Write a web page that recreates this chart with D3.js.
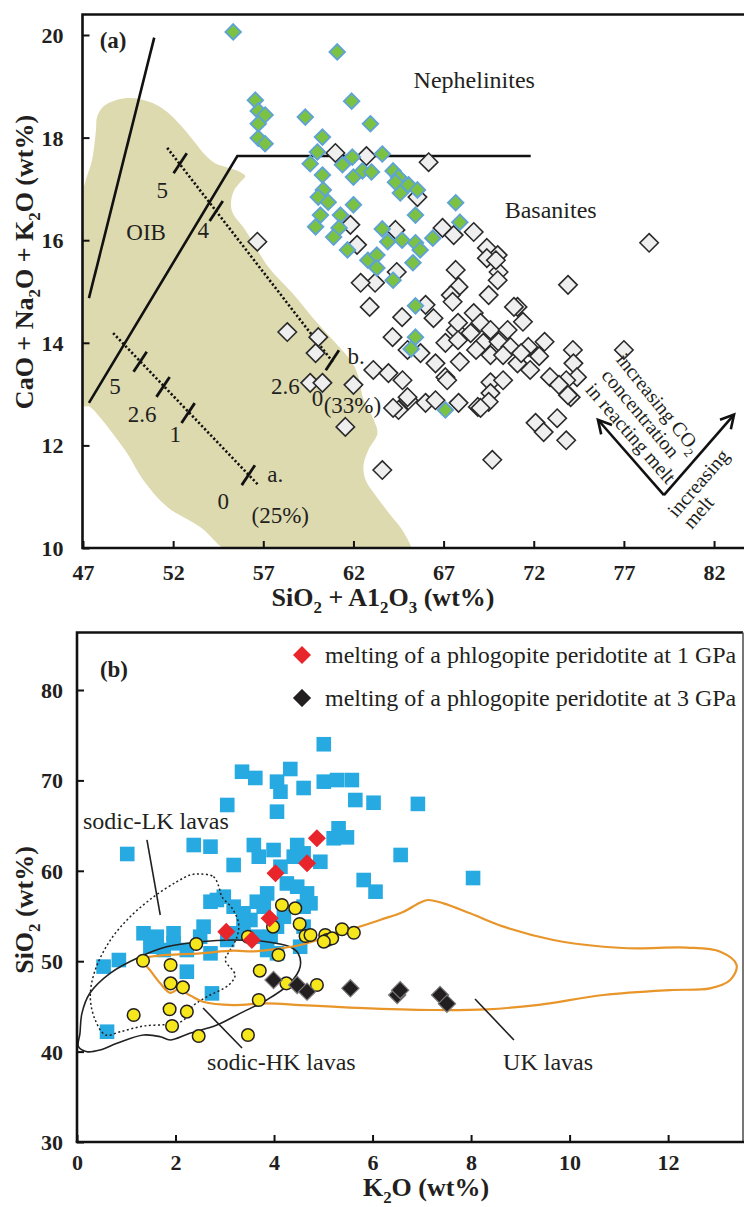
<!DOCTYPE html>
<html><head><meta charset="utf-8">
<script src="https://cdn.jsdelivr.net/npm/d3@7"></script>
<style>
body{margin:0;background:#fff}
svg{display:block}
text{font-family:"Liberation Serif","Times New Roman",serif;fill:#231f20}
</style>
</head><body>
<svg id="c" width="744" height="1207"></svg>
<script>
// ---------------- DATA ----------------
const aXTicks = [47, 52, 57, 62, 67, 72, 77, 82];
const aYTicks = [10, 12, 14, 16, 18, 20];
const bXTicks = [0, 2, 4, 6, 8, 10, 12];
const bYTicks = [30, 40, 50, 60, 70, 80];

// panel (a): SiO2+Al2O3 vs CaO+Na2O+K2O
const greenDiamonds = [
  [55.33,20.06],[61.1,19.67],[56.56,18.73],[56.72,18.52],[57.1,18.44],[56.72,18.27],[56.72,17.99],[57.1,17.88],
  [59.33,18.40],[61.9,18.71],[62.94,18.27],[60.28,18.01],[60.0,17.72],[59.6,17.49],[61.94,17.62],[61.39,17.47],
  [63.6,17.68],[62.0,17.23],[62.5,17.35],[63.0,17.33],[60.28,17.27],[64.2,17.35],[64.5,17.23],[64.33,17.13],
  [65.05,17.08],[65.55,16.98],[64.6,16.92],[60.33,16.98],[60.05,16.84],[60.6,16.74],[62.0,16.69],[60.17,16.49],
  [61.28,16.49],[67.67,16.73],[65.44,16.49],[59.9,16.26],[61.2,16.24],[60.9,16.06],[63.6,16.22],[63.9,15.97],
  [64.7,16.0],[65.44,15.95],[65.7,15.81],[66.4,16.04],[61.67,15.81],[62.8,15.61],[63.3,15.71],[63.3,15.46],
  [65.3,15.56],[64.2,15.22],[65.44,14.72],[65.44,14.11],[65.2,13.88],[67.1,12.69],[67.9,16.35]
];
const whiteDiamonds = [
  [61.0,17.70],[62.72,17.64],[66.17,17.52],[65.55,16.84],[64.33,16.2],[66.94,16.24],[67.56,16.1],[68.67,16.16],
  [69.4,15.85],[70.0,15.71],[69.4,15.65],[70.05,15.38],[70.0,15.22],[67.67,15.42],[67.83,15.09],[67.4,14.93],
  [69.5,14.93],[73.9,15.13],[78.4,15.95],[64.4,15.38],[63.2,15.17],[56.67,15.97],[61.83,16.3],[62.2,15.91],
  [62.4,15.17],[62.9,14.7],[66.0,14.74],[66.44,14.48],[64.7,14.5],[64.17,14.11],[65.0,13.86],[65.72,13.8],
  [66.55,13.6],[67.1,13.33],[67.1,14.0],[58.33,14.21],[60.05,14.11],[59.9,13.8],[59.6,13.22],[60.28,13.22],
  [62.0,13.18],[63.1,13.47],[63.94,13.41],[64.72,13.27],[65.05,12.88],[66.0,12.83],[64.5,12.69],[66.55,12.88],
  [61.55,12.36],[63.6,11.52],[67.67,14.25],[69.9,15.61],[67.5,14.8],[68.67,14.58],[71.1,14.7],[71.4,14.41],
  [67.8,14.39],[69.05,14.39],[69.6,14.25],[70.55,14.25],[68.5,14.19],[67.8,14.05],[69.2,14.0],[70.05,14.02],
  [68.8,13.86],[69.6,13.76],[70.7,13.92],[71.7,13.92],[72.6,14.02],[74.17,13.86],[74.2,13.6],[74.4,13.33],
  [73.8,13.27],[72.9,13.33],[71.8,13.47],[71.1,13.6],[70.3,13.76],[67.9,13.63],[67.2,13.27],[69.6,13.23],
  [70.3,13.27],[69.6,13.02],[68.9,12.75],[69.5,12.85],[73.4,13.18],[74.05,12.94],[72.1,12.44],[72.55,12.26],
  [73.3,12.53],[73.8,12.1],[69.7,11.72],[77.0,13.86],[72.3,13.74],[71.3,13.8],[70.9,14.7],[73.9,12.98],
  [64.2,12.73],[65.0,12.94],[67.83,12.83],[69.05,12.73]
];
const oibField = [
  [47.0,16.94],[47.5,17.56],[47.72,18.15],[47.78,18.40],[48.11,18.60],[48.67,18.71],[49.44,18.77],[50.17,18.75],
  [50.89,18.67],[51.67,18.50],[52.39,18.25],[53.11,17.95],[53.78,17.66],[54.33,17.50],[55.06,17.41],[55.72,17.33],
  [56.0,17.25],[55.72,17.13],[55.39,16.98],[55.22,16.78],[55.28,16.55],[56.0,16.20],[57.28,15.48],[58.61,14.97],
  [59.72,14.50],[61.0,14.0],[61.94,13.61],[62.28,13.33],[62.56,12.89],[63.06,12.55],[63.33,12.24],[62.83,11.91],
  [62.56,11.62],[62.67,11.33],[63.22,11.03],[64.06,10.64],[64.78,10.31],[65.17,9.9],[60.0,9.9],[55.28,9.9],
  [53.5,10.41],[51.67,10.80],[50.33,11.33],[49.44,11.85],[48.5,12.30],[47.94,12.55],[47.39,12.75],[46.9,12.79],
  [46.9,14.8]
];
const boundaryLeft = [[47.33,14.87],[50.95,19.95]];
const boundaryMain = [[47.33,12.83],[55.56,17.64],[71.83,17.64]];
const meltLineA = [[48.67,14.19],[56.72,11.23]];
const meltTicksA = [[50.17,13.63],[51.44,13.14],[52.83,12.63],[56.17,11.42]];
const meltLineB = [[51.67,17.80],[60.89,13.61]];
const meltTicksB = [[52.39,17.5],[54.39,16.57],[60.83,13.66]];

// panel (b): K2O vs SiO2
const blueSquares = [
  [5.01,74.0],[3.35,70.96],[3.62,70.27],[4.33,71.26],[4.06,69.86],[4.13,68.75],[4.6,69.16],[5.01,69.86],
  [5.28,70.04],[5.58,70.04],[5.65,67.83],[6.02,67.53],[3.05,67.28],[4.06,66.54],[2.37,62.85],[2.71,62.67],
  [1.02,61.86],[3.59,62.85],[3.99,62.3],[3.69,61.56],[4.47,62.85],[4.6,61.93],[4.94,61.0],[4.4,61.56],
  [5.31,64.7],[5.21,63.6],[5.48,63.7],[3.18,60.64],[4.13,60.45],[6.57,61.75],[5.82,58.98],[6.06,57.69],
  [4.26,58.6],[4.47,58.24],[4.67,57.5],[4.74,56.4],[3.86,57.5],[3.65,56.58],[3.79,56.03],[2.98,57.14],
  [2.71,56.58],[3.18,56.03],[3.38,55.3],[3.52,54.56],[4.06,53.82],[4.2,54.92],[4.6,56.03],[4.6,53.82],
  [4.53,51.6],[1.35,53.09],[1.62,52.71],[1.96,53.09],[1.96,51.98],[2.57,53.82],[2.5,52.71],[2.23,51.24],
  [2.71,50.87],[3.05,52.35],[3.25,53.09],[3.38,54.19],[3.65,52.71],[3.93,52.71],[3.86,51.24],[4.06,50.87],
  [1.49,51.6],[1.76,51.24],[0.54,49.4],[0.85,50.13],[2.23,48.84],[2.74,46.44],[0.61,42.2],[2.84,56.77],
  [6.92,67.4],[8.04,59.2]
];
const yellowCircles = [
  [4.16,56.22],[4.43,55.85],[4.52,54.12],[4.64,52.79],[4.74,52.9],[5.04,52.9],[5.08,52.35],[5.18,52.53],
  [5.01,52.16],[5.38,53.53],[5.62,53.15],[3.98,53.82],[3.47,52.71],[2.42,51.9],[1.34,50.05],[1.9,49.58],
  [4.09,50.69],[3.71,48.95],[1.9,47.55],[2.15,47.11],[4.25,47.55],[4.87,47.37],[3.69,45.71],[1.88,44.68],
  [2.23,44.42],[1.15,44.05],[1.93,42.83],[2.47,41.72],[3.47,41.83]
];
const red1GPa = [[4.87,63.6],[4.67,60.83],[4.03,59.72],[3.91,54.75],[3.03,53.27],[3.55,52.35]];
const black3GPa = [[3.99,47.92],[4.47,47.37],[4.67,46.63],[5.55,47.0],[6.5,46.26],[6.56,46.8],[7.37,46.26],[7.51,45.3]];
const sodicLK = [
  [2.50,59.65],[2.77,59.35],[2.88,58.24],[2.94,57.14],[3.15,55.85],[3.28,54.19],[3.25,52.71],[3.11,51.24],
  [3.01,50.13],[3.21,48.47],[3.08,47.37],[2.64,46.07],[2.34,44.97],[2.17,43.5],[1.9,43.05],[1.35,42.83],
  [0.88,42.2],[0.58,41.84],[0.37,43.5],[0.27,46.07],[0.37,49.03],[0.68,52.35],[1.08,54.92],[1.56,57.14],
  [2.03,58.8],[2.3,59.54]
];
const sodicHK = [
  [0.06,42.02],[0.03,40.54],[0.2,39.99],[0.47,40.18],[0.81,40.92],[1.35,41.84],[1.69,41.65],[1.89,41.28],
  [2.29,42.02],[2.84,42.94],[3.31,44.23],[3.85,45.71],[4.32,47.55],[4.53,49.39],[4.49,50.87],[4.32,51.6],
  [3.85,52.16],[3.17,52.35],[2.5,52.16],[1.82,51.6],[1.28,50.5],[0.67,48.66],[0.26,46.45],[0.1,44.23]
];
const ukField = [
  [1.31,50.21],[1.62,50.58],[2.5,50.87],[3.17,51.16],[3.58,51.09],[3.99,51.31],[4.53,51.79],[5.2,52.9],
  [6.15,54.56],[6.63,55.48],[6.96,56.47],[7.13,56.77],[7.44,56.4],[7.98,55.3],[8.66,53.82],[9.67,52.35],
  [10.69,51.6],[11.36,51.42],[12.38,51.5],[13.06,51.05],[13.39,49.58],[13.26,47.92],[12.85,47.0],[12.04,46.81],
  [10.69,46.26],[9.33,45.15],[8.32,44.68],[7.3,44.6],[5.95,44.79],[5.2,44.97],[4.53,45.15],[3.85,45.34],
  [3.17,45.15],[2.56,45.52],[2.3,46.2],[2.05,46.85],[1.89,46.5],[1.69,47.55],[1.48,49.03]
];

// ---------------- DRAWING ----------------
const svg = d3.select("#c");
const FONT_REG = 24, FONT_TICK = 22, FONT_TITLE = 26;

function rich(g, parts, fs, weight) {
  const t = g.append("text").attr("font-size", fs).attr("font-weight", weight || "normal");
  let inSub = false;
  const sh = fs * 0.28;
  parts.forEach(p => {
    const s = typeof p === "string" ? p : p[0];
    const isSub = typeof p !== "string";
    const ts = t.append("tspan").text(s);
    if (isSub) { ts.attr("font-size", fs * 0.65); if (!inSub) ts.attr("dy", sh); inSub = true; }
    else if (inSub) { ts.attr("dy", -sh); inSub = false; }
  });
  return t;
}
function diamond(h) { return `M0,${-h}L${h},0L0,${h}L${-h},0Z`; }

// ===== Panel (a) =====
const xA = d3.scaleLinear().domain([47, 83.7]).range([83, 744.7]);
const yA = d3.scaleLinear().domain([10, 20]).range([548, 35]);
const gA = svg.append("g");
svg.append("clipPath").attr("id", "clipA").append("rect").attr("x", 83).attr("y", 15).attr("width", 662).attr("height", 532);

gA.append("path").datum(oibField)
  .attr("clip-path", "url(#clipA)")
  .attr("d", d3.line().x(d => xA(d[0])).y(d => yA(d[1])).curve(d3.curveCatmullRomClosed.alpha(0.5)))
  .attr("fill", "#dddab0").attr("stroke", "none");

const lineA = d3.line().x(d => xA(d[0])).y(d => yA(d[1]));
[boundaryLeft, boundaryMain].forEach(L => gA.append("path").attr("d", lineA(L)).attr("fill", "none").attr("stroke", "#111").attr("stroke-width", 2.6));
[meltLineA, meltLineB].forEach(L => gA.append("path").attr("d", lineA(L)).attr("fill", "none").attr("stroke", "#111").attr("stroke-width", 2.6).attr("stroke-dasharray", "2.2,2.2"));
const tn = [0.55, -0.83], th = 12;
[...meltTicksA, ...meltTicksB].forEach(d => {
  const px = xA(d[0]), py = yA(d[1]);
  gA.append("line").attr("x1", px - tn[0]*th).attr("y1", py - tn[1]*th).attr("x2", px + tn[0]*th).attr("y2", py + tn[1]*th)
    .attr("stroke", "#111").attr("stroke-width", 2.8);
});

gA.append("g").selectAll("path").data(whiteDiamonds).join("path")
  .attr("d", diamond(9.2)).attr("transform", d => `translate(${xA(d[0])},${yA(d[1])})`)
  .attr("fill", "#efefef").attr("stroke", "#2a2a2a").attr("stroke-width", 1.6);
gA.append("g").selectAll("path").data(greenDiamonds).join("path")
  .attr("d", diamond(7.8)).attr("transform", d => `translate(${xA(d[0])},${yA(d[1])})`)
  .attr("fill", "#7cc242").attr("stroke", "#5fa3d6").attr("stroke-width", 1.8);

// axes (a)
const axAx = d3.axisBottom(xA).tickValues(aXTicks).tickSize(-7).tickSizeOuter(0).tickPadding(16);
const axAy = d3.axisLeft(yA).tickValues(aYTicks).tickSize(-7).tickSizeOuter(0).tickPadding(19);
const gAx = gA.append("g").attr("transform", "translate(0,548)").call(axAx);
const gAy = gA.append("g").attr("transform", "translate(82.5,0)").call(axAy);
[gAx, gAy].forEach(g => {
  g.select(".domain").remove();
  g.selectAll(".tick line").attr("stroke", "#111").attr("stroke-width", 2);
  g.selectAll(".tick text").attr("font-size", FONT_TICK).attr("font-weight", "bold").attr("fill", "#231f20")
    .attr("font-family", "Liberation Serif, serif");
});
gAy.selectAll(".tick text").attr("dy", "0.34em");
gA.append("path").attr("d", "M82.5,14.5H744M82.5,13.2V549.3M81.2,548H744").attr("fill", "none").attr("stroke", "#111").attr("stroke-width", 2.6);

// texts (a)
function place(g, x, y, parts, fs, weight, anchor) {
  const t = rich(g, parts, fs, weight).attr("x", x).attr("y", y).attr("text-anchor", anchor || "middle");
  return t;
}
place(gA, xA(48.67), yA(19.75), ["(a)"], 23, "bold");
place(gA, xA(68.7), yA(18.97), ["Nephelinites"], FONT_REG);
place(gA, xA(72.94), yA(16.43), ["Basanites"], FONT_REG);
place(gA, xA(50.5), yA(16.0), ["OIB"], 23);
place(gA, xA(51.39), yA(16.82), ["5"], 23);
place(gA, xA(53.67), yA(16.04), ["4"], 23);
place(gA, xA(58.22), yA(13.0), ["2.6"], 23);
place(gA, xA(60.0), yA(12.77), ["0"], 23);
place(gA, xA(61.94), yA(12.63), ["(33%)"], 23);
place(gA, xA(61.67), yA(13.59), ["b."], 23, "normal", "start");
place(gA, xA(48.78), yA(13.0), ["5"], 23);
place(gA, xA(50.28), yA(12.46), ["2.6"], 23);
place(gA, xA(52.11), yA(12.07), ["1"], 23);
place(gA, xA(54.78), yA(10.76), ["0"], 23);
place(gA, xA(57.22), yA(11.29), ["a."], 23, "normal", "start");
place(gA, xA(57.94), yA(10.49), ["(25%)"], 23);

// arrows
const vtx = [79.22, 11.03], endL = [75.56, 12.5], endR = [83.11, 12.6];
function arrow(g, a, b) {
  const x1 = xA(a[0]), y1 = yA(a[1]), x2 = xA(b[0]), y2 = yA(b[1]);
  const ang = Math.atan2(y2 - y1, x2 - x1), L = 15, w = 0.5;
  g.append("line").attr("x1", x1).attr("y1", y1).attr("x2", x2).attr("y2", y2).attr("stroke", "#111").attr("stroke-width", 2.6);
  g.append("path").attr("d", `M${x2 - L*Math.cos(ang - w)},${y2 - L*Math.sin(ang - w)}L${x2},${y2}L${x2 - L*Math.cos(ang + w)},${y2 - L*Math.sin(ang + w)}`)
    .attr("fill", "none").attr("stroke", "#111").attr("stroke-width", 2.6);
}
arrow(gA, vtx, endL); arrow(gA, vtx, endR);
function rot(g, x, y, deg, parts, fs) {
  const t = rich(g, parts, fs).attr("text-anchor", "middle").attr("dy", "0.35em")
    .attr("transform", `translate(${x},${y}) rotate(${deg})`);
  return t;
}
rot(gA, xA(78.94), yA(12.83), 51, ["increasing CO", ["2"]], 20);
rot(gA, xA(77.94), yA(12.63), 50, ["concentration"], 20);
rot(gA, xA(77.39), yA(12.24), 49, ["in reacting melt"], 20);
rot(gA, xA(81.11), yA(11.27), -49, ["increasing"], 20);
rot(gA, xA(81.11), yA(10.70), -49, ["melt"], 20);

// axis titles (a)
place(gA, 383, 606, ["SiO", ["2"], " + A1", ["2"], "O", ["3"], " (wt%)"], FONT_TITLE, "bold");
rich(gA, ["CaO + Na", ["2"], "O + K", ["2"], "O (wt%)"], FONT_TITLE, "bold")
  .attr("text-anchor", "middle").attr("transform", "translate(33,262) rotate(-90)");

// ===== Panel (b) =====
const xB = d3.scaleLinear().domain([0, 13.52]).range([77, 743]);
const yB = d3.scaleLinear().domain([30, 80]).range([1142, 690]);
const gB = svg.append("g");
svg.append("clipPath").attr("id", "clipB").append("rect").attr("x", 77).attr("y", 632).attr("width", 666).attr("height", 510);
const lineB = d3.line().x(d => xB(d[0])).y(d => yB(d[1])).curve(d3.curveCatmullRomClosed.alpha(0.5));

gB.append("g").selectAll("rect").data(blueSquares).join("rect")
  .attr("x", d => xB(d[0]) - 7.3).attr("y", d => yB(d[1]) - 7.3).attr("width", 14.6).attr("height", 14.6)
  .attr("fill", "#27aae1");

gB.append("path").datum(sodicLK).attr("clip-path", "url(#clipB)").attr("d", lineB)
  .attr("fill", "none").attr("stroke", "#222").attr("stroke-width", 1.5).attr("stroke-dasharray", "2,2.5");
gB.append("path").datum(sodicHK).attr("clip-path", "url(#clipB)").attr("d", lineB)
  .attr("fill", "none").attr("stroke", "#222").attr("stroke-width", 1.6);
gB.append("path").datum(ukField).attr("clip-path", "url(#clipB)").attr("d", lineB)
  .attr("fill", "none").attr("stroke", "#e8952a").attr("stroke-width", 2.2);

gB.append("g").selectAll("circle").data(yellowCircles).join("circle")
  .attr("cx", d => xB(d[0])).attr("cy", d => yB(d[1])).attr("r", 6.3)
  .attr("fill", "#f6e71d").attr("stroke", "#231f20").attr("stroke-width", 1.5);
gB.append("g").selectAll("path").data(red1GPa).join("path")
  .attr("d", diamond(9)).attr("transform", d => `translate(${xB(d[0])},${yB(d[1])})`).attr("fill", "#e8252b");
gB.append("g").selectAll("path").data(black3GPa).join("path")
  .attr("d", diamond(8.6)).attr("transform", d => `translate(${xB(d[0])},${yB(d[1])})`)
  .attr("fill", "#231f20").attr("stroke", "#7a7a7a").attr("stroke-width", 1.2);

// leader lines
function leader(a, b) {
  gB.append("line").attr("x1", xB(a[0])).attr("y1", yB(a[1])).attr("x2", xB(b[0])).attr("y2", yB(b[1]))
    .attr("stroke", "#231f20").attr("stroke-width", 1.6);
}
leader([1.42, 63.41], [1.69, 55.11]);
leader([2.56, 44.82], [3.35, 40.4]);
leader([8.08, 45.82], [8.87, 41.28]);
place(gB, xB(0.12), yB(64.62), ["sodic-LK lavas"], FONT_REG, "normal", "start");
place(gB, xB(2.64), yB(37.96), ["sodic-HK lavas"], FONT_REG, "normal", "start");
place(gB, xB(8.65), yB(37.96), ["UK lavas"], FONT_REG, "normal", "start");
place(gB, xB(0.75), yB(81.44), ["(b)"], 23, "bold");

// legend
const legend = [
  {label: "melting of a phlogopite peridotite at 1 GPa", color: "#e8252b", stroke: "none"},
  {label: "melting of a phlogopite peridotite at 3 GPa", color: "#231f20", stroke: "#7a7a7a"}
];
legend.forEach((L, i) => {
  const cy = 655 + i * 43;
  gB.append("path").attr("d", diamond(9)).attr("transform", `translate(302,${cy})`).attr("fill", L.color).attr("stroke", L.stroke);
  gB.append("text").attr("x", 325).attr("y", cy + 8).attr("font-size", FONT_REG).text(L.label);
});

// axes (b)
const axBx = d3.axisBottom(xB).tickValues(bXTicks).tickSize(-7).tickSizeOuter(0).tickPadding(12);
const axBy = d3.axisLeft(yB).tickValues(bYTicks).tickSize(-7).tickSizeOuter(0).tickPadding(14);
const gBx = gB.append("g").attr("transform", "translate(0,1142)").call(axBx);
const gBy = gB.append("g").attr("transform", "translate(77,0)").call(axBy);
[gBx, gBy].forEach(g => {
  g.select(".domain").remove();
  g.selectAll(".tick line").attr("stroke", "#111").attr("stroke-width", 2);
  g.selectAll(".tick text").attr("font-size", FONT_TICK).attr("font-weight", "bold").attr("fill", "#231f20")
    .attr("font-family", "Liberation Serif, serif");
});
gBy.selectAll(".tick text").attr("dy", "0.34em");
gB.append("path").attr("d", "M77,1142V632.5H743").attr("fill", "none").attr("stroke", "#111").attr("stroke-width", 2.6);
gB.append("path").attr("d", "M743,632.5V1142").attr("fill", "none").attr("stroke", "#555").attr("stroke-width", 1.6);
gB.append("path").attr("d", "M75.7,1142H744").attr("fill", "none").attr("stroke", "#111").attr("stroke-width", 2.6);

place(gB, 426, 1196, ["K", ["2"], "O (wt%)"], FONT_TITLE, "bold");
rich(gB, ["SiO", ["2"], " (wt%)"], FONT_TITLE, "bold")
  .attr("text-anchor", "middle").attr("transform", "translate(33,910) rotate(-90)");
</script>
</body></html>
